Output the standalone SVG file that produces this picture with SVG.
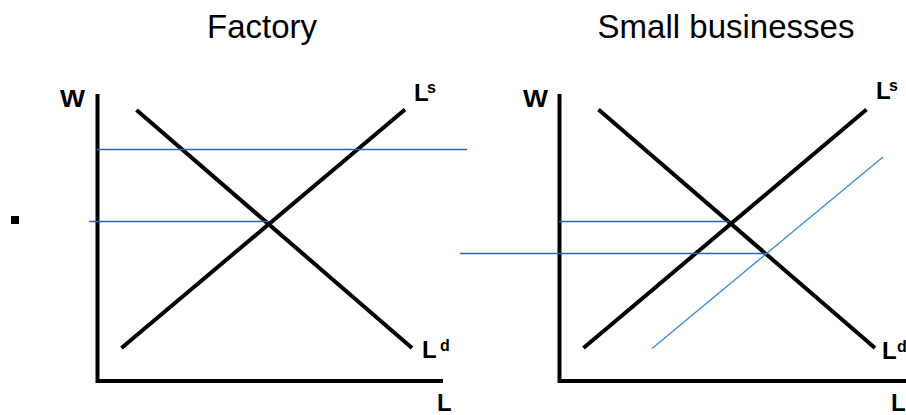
<svg xmlns="http://www.w3.org/2000/svg" width="906" height="415" viewBox="0 0 906 415">
<style>
.title{font-family:"Liberation Sans",Arial,sans-serif;font-size:33px;fill:#000}
.lab{font-family:"Liberation Sans",Arial,sans-serif;font-size:24px;font-weight:bold;fill:#000}
.sup{font-family:"Liberation Sans",Arial,sans-serif;font-size:16px;font-weight:bold;fill:#000}
.axis{stroke:#000;stroke-width:4;fill:none}
.curve{stroke:#000;stroke-width:4;fill:none}
.ref{stroke:#2A66B0;stroke-width:1.3;fill:none}
.shift{stroke:#3C8AD8;stroke-width:1.3;fill:none}
</style>
<rect width="906" height="415" fill="#fff"/>
<g id="titles">
<text class="title" x="262" y="38" text-anchor="middle">Factory</text>
<text class="title" x="726" y="38" text-anchor="middle">Small businesses</text>
</g>
<rect id="bullet" x="11" y="216" width="8" height="8" fill="#000"/>
<g id="factory">
<path class="axis" d="M97.5,94 V381 H443"/>
<text class="lab" x="60" y="107" textLength="25" lengthAdjust="spacingAndGlyphs">W</text>
<text class="lab" x="437" y="411">L</text>
<line class="curve" x1="136.5" y1="110" x2="412" y2="348"/>
<line class="curve" x1="121.5" y1="348" x2="405" y2="109.5"/>
<text class="lab" x="414" y="101">L</text><text class="sup" x="427" y="93">s</text>
<text class="lab" x="422" y="358">L</text><text class="sup" x="440" y="351">d</text>
</g>
<g id="small-businesses">
<path class="axis" d="M559.5,94 V381 H906"/>
<text class="lab" x="523" y="107" textLength="25" lengthAdjust="spacingAndGlyphs">W</text>
<text class="lab" x="891" y="411">L</text>
<line class="curve" x1="598.5" y1="109.5" x2="875" y2="348"/>
<line class="curve" x1="583.5" y1="348" x2="866.5" y2="109.5"/>
<text class="lab" x="876" y="99">L</text><text class="sup" x="889" y="91">s</text>
<text class="lab" x="882" y="359">L</text><text class="sup" x="897" y="352">d</text>
</g>
<g id="connectors">
<line class="ref" x1="97" y1="149.5" x2="467" y2="149.5"/>
<line class="ref" x1="89" y1="221.5" x2="268" y2="221.5"/>
<line class="ref" x1="559" y1="221.5" x2="729" y2="221.5"/>
<line class="ref" x1="460" y1="253.5" x2="767" y2="253.5"/>
<line class="shift" x1="652" y1="348.5" x2="883" y2="157"/>
</g>
</svg>
